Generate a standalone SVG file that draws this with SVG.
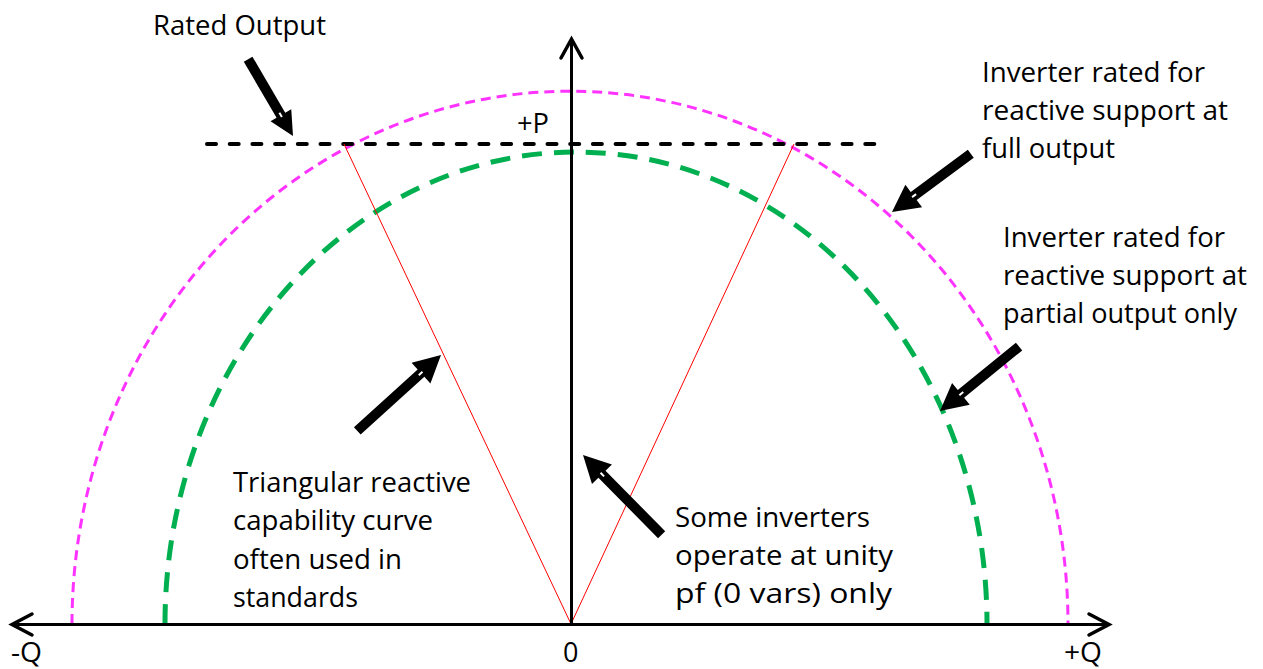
<svg xmlns="http://www.w3.org/2000/svg" width="1263" height="669" viewBox="0 0 1263 669">
<style>
.t{font-family:"Open Sans","Liberation Sans",sans-serif;font-size:27px;fill:#000}
.axis{stroke:#000;stroke-width:3;fill:none}
.head{stroke:#000;stroke-width:3.5;fill:none;stroke-linecap:round;stroke-linejoin:miter}
.mag{stroke:#ff33ff;stroke-width:3;fill:none;stroke-dasharray:10 6}
.grn{stroke:#00b050;stroke-width:5;fill:none;stroke-dasharray:20 12}
.rated{stroke:#000;stroke-width:4;fill:none;stroke-dasharray:9 13.7;stroke-linecap:round}
.red{stroke:#ff0000;stroke-width:1;fill:none}
.fat{fill:#000}
.notch{stroke:#fff;stroke-width:2}
</style>
<rect width="1263" height="669" fill="#fff"/>
<g id="curves">
<path class="mag" d="M72,624 A498,533 0 0 1 1068,624"/>
<path class="grn" d="M165,624 A411,472 0 0 1 987,624"/>
<path class="rated" d="M207,144 H878"/>
<path class="red" d="M571,624 L344,144 M571,624 L794,144"/>
</g>
<g id="axes">
<path class="axis" d="M12,624.5 H1108"/>
<path class="axis" d="M571.5,624 V40"/>
<path class="head" d="M32,614 L12,624.5 L32,635"/>
<path class="head" d="M1089,614 L1109,624.5 L1089,635"/>
<path class="head" d="M561,58 L571.5,39 L582,58"/>
</g>
<g id="connectors">
<g transform="translate(293,136) rotate(59.7)"><path class="fat" d="M0,0 L-24,-12 L-24,-5 L-89,-5 L-89,5 L-24,5 L-24,12 Z"/><line class="notch" x1="-27" y1="0" x2="-22" y2="0"/></g>
<g transform="translate(441,355) rotate(-42.2)"><path class="fat" d="M0,0 L-27,-14 L-27,-5 L-113,-5 L-113,5 L-27,5 L-27,14 Z"/><line class="notch" x1="-30" y1="0" x2="-25" y2="0"/></g>
<g transform="translate(583,455) rotate(-134.6)"><path class="fat" d="M0,0 L-27,-14 L-27,-5 L-112,-5 L-112,5 L-27,5 L-27,14 Z"/><line class="notch" x1="-30" y1="0" x2="-25" y2="0"/></g>
<g transform="translate(892,212) rotate(143.5)"><path class="fat" d="M0,0 L-27,-14 L-27,-5 L-98,-5 L-98,5 L-27,5 L-27,14 Z"/><line class="notch" x1="-30" y1="0" x2="-25" y2="0"/></g>
<g transform="translate(940,411) rotate(140.8)"><path class="fat" d="M0,0 L-27,-14 L-27,-5 L-102,-5 L-102,5 L-27,5 L-27,14 Z"/><line class="notch" x1="-30" y1="0" x2="-25" y2="0"/></g>
</g>
<g id="label-rated">
<text class="t" x="153" y="35" textLength="173" lengthAdjust="spacingAndGlyphs">Rated Output</text>
</g>
<g id="label-p">
<text class="t" x="517" y="133" textLength="32" lengthAdjust="spacingAndGlyphs">+P</text>
</g>
<g id="label-full">
<text class="t" x="982" y="82" textLength="223" lengthAdjust="spacingAndGlyphs">Inverter rated for</text>
<text class="t" x="982" y="120" textLength="246" lengthAdjust="spacingAndGlyphs">reactive support at</text>
<text class="t" x="982" y="158" textLength="133" lengthAdjust="spacingAndGlyphs">full output</text>
</g>
<g id="label-partial">
<text class="t" x="1003" y="247" textLength="222" lengthAdjust="spacingAndGlyphs">Inverter rated for</text>
<text class="t" x="1003" y="285" textLength="244" lengthAdjust="spacingAndGlyphs">reactive support at</text>
<text class="t" x="1003" y="323" textLength="234" lengthAdjust="spacingAndGlyphs">partial output only</text>
</g>
<g id="label-triangular">
<text class="t" x="233" y="492" textLength="238" lengthAdjust="spacingAndGlyphs">Triangular reactive</text>
<text class="t" x="233" y="530" textLength="200" lengthAdjust="spacingAndGlyphs">capability curve</text>
<text class="t" x="233" y="569" textLength="169" lengthAdjust="spacingAndGlyphs">often used in</text>
<text class="t" x="233" y="607" textLength="125" lengthAdjust="spacingAndGlyphs">standards</text>
</g>
<g id="label-unity">
<text class="t" x="675" y="527" textLength="195" lengthAdjust="spacingAndGlyphs">Some inverters</text>
<text class="t" x="675" y="565" textLength="218" lengthAdjust="spacingAndGlyphs">operate at unity</text>
<text class="t" x="675" y="603" textLength="217" lengthAdjust="spacingAndGlyphs">pf (0 vars) only</text>
</g>
<g id="label-axes">
<text class="t" x="11" y="662" textLength="31" lengthAdjust="spacingAndGlyphs">-Q</text>
<text class="t" x="563" y="662">0</text>
<text class="t" x="1064" y="662" textLength="38" lengthAdjust="spacingAndGlyphs">+Q</text>
</g>
</svg>
